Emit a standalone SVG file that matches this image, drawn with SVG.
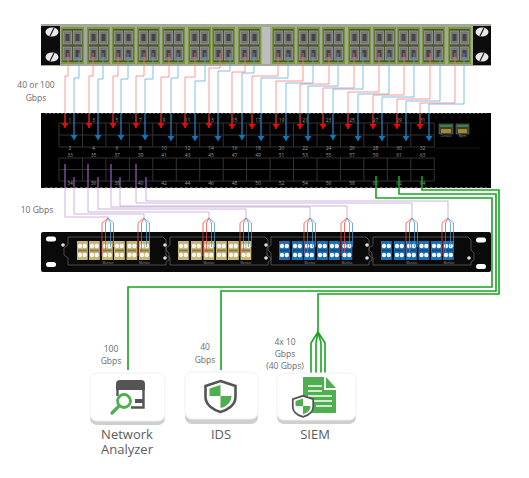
<svg xmlns="http://www.w3.org/2000/svg" xmlns:xlink="http://www.w3.org/1999/xlink" width="529" height="478" viewBox="0 0 529 478">
<style>
text{font-family:"Open Sans","Liberation Sans",sans-serif}
.lb{font-size:8.5px;fill:#6a6a6a;text-anchor:middle}
.nm{font-size:13px;fill:#5c5c5c;text-anchor:middle}
.pn{font-size:5px;fill:#999;text-anchor:middle}
.tiny{font-size:3px;fill:#999;text-anchor:middle}
.r,.b,.p,.g,.rf,.bf{fill:none}
.r{stroke:#ff7474;stroke-width:.75}
.b{stroke:#55a8de;stroke-width:.75}
.p{stroke:#bb98d6;stroke-width:.75}
.g{stroke:#16a51f;stroke-width:1.600}
.rf{stroke:#f04444;stroke-width:.75}
.bf{stroke:#3f96d2;stroke-width:.75}
.br{fill:none;stroke:#5a5a5a;stroke-width:.8}
.card{fill:#fff;stroke:#f0f0f0}
.sh{fill:#cfcfcf}
.dk{fill:#555}
.gr{fill:#4fae4f}
</style>
<defs>
<marker id="ar" markerUnits="userSpaceOnUse" markerWidth="8" markerHeight="7" refX="3.500" refY="5" orient="0" overflow="visible"><path d="M0 0H7L3.500 5Z" fill="#f00"/></marker>
<marker id="ab" markerUnits="userSpaceOnUse" markerWidth="8" markerHeight="7" refX="3.500" refY="5" orient="0" overflow="visible"><path d="M0 0H7L3.500 5Z" fill="#0d78c0"/></marker>
<g id="sm">
<rect width="23" height="37" fill="#7a9a3a"/>
<rect x="1.500" y="2" width="20" height="33" fill="#4a5530"/>
<g fill="#777" stroke="#a8a8a8" stroke-width=".6">
<rect x="2.500" y="4" width="8" height="13"/><rect x="12.500" y="4" width="8" height="13"/>
<rect x="2.500" y="20" width="8" height="13"/><rect x="12.500" y="20" width="8" height="13"/>
</g>
<g fill="#454545">
<rect x="4.500" y="7" width="4" height="7"/><rect x="14.500" y="7" width="4" height="7"/>
<rect x="4.500" y="23" width="4" height="7"/><rect x="14.500" y="23" width="4" height="7"/>
</g>
</g>
<g id="screw"><ellipse rx="6.500" ry="4.500" fill="#e8e8e8"/><path d="M-2 4L2 -4" stroke="#222" stroke-width="1.300"/></g>
<g id="cy"><rect width="10.800" height="19" fill="#c7b574"/><rect x="1" y="8.500" width="8.800" height="2" fill="#8a7a45"/><g fill="#f6f6f0"><circle cx="3" cy="5" r="2.200"/><circle cx="7.800" cy="5" r="2.200"/><circle cx="3" cy="14" r="2.200"/><circle cx="7.800" cy="14" r="2.200"/></g></g>
<g id="cb"><rect width="10.800" height="19" fill="#1a6fb5"/><rect x="1" y="8.500" width="8.800" height="2" fill="#0c4a80"/><g fill="#f2f6fa"><circle cx="3" cy="5" r="2.200"/><circle cx="7.800" cy="5" r="2.200"/><circle cx="3" cy="14" r="2.200"/><circle cx="7.800" cy="14" r="2.200"/></g></g>
<path id="bk" class="br" d="M0 0H95L98 3V13L101 16V23L98 25V28H0V21L-4 18V11L0 8Z"/>
<g id="shield"><path d="M0 -15L15 -10V1C15 9 7 14 0 16C-7 14 -15 9 -15 1V-10Z" fill="#fff" stroke="#555" stroke-width="2.600"/><path d="M0 -11L-11 -7.500V0H0ZM0 0V12C5 11 11 7 11 0Z" class="gr"/></g>
<circle id="sc" r="1.800" fill="#ddd"/>
</defs>

<g id="patch-panel-top">
<rect x="41" y="24" width="450" height="42" fill="#a4a89a"/>
<rect x="41" y="26" width="19" height="39" fill="#0c0c0c"/>
<rect x="473" y="26" width="18" height="39" fill="#0c0c0c"/>
<rect x="262" y="27" width="8" height="37" fill="#bdbdbd"/>
<use href="#screw" x="52" y="32"/><use href="#screw" x="52" y="57"/>
<use href="#screw" x="482" y="32"/><use href="#screw" x="482" y="57"/>
<use href="#sm" x="61" y="27"/><use href="#sm" x="87" y="27"/><use href="#sm" x="112" y="27"/><use href="#sm" x="137" y="27"/>
<use href="#sm" x="162" y="27"/><use href="#sm" x="188" y="27"/><use href="#sm" x="212" y="27"/><use href="#sm" x="238" y="27"/>
<use href="#sm" x="272" y="27"/><use href="#sm" x="297" y="27"/><use href="#sm" x="322" y="27"/><use href="#sm" x="348" y="27"/>
<use href="#sm" x="373" y="27"/><use href="#sm" x="397" y="27"/><use href="#sm" x="422" y="27"/><use href="#sm" x="448" y="27"/>
</g>

<g id="switch">
<rect x="41" y="113" width="450" height="75" fill="#000"/>
<path d="M45 113.500H486" stroke="#555" stroke-width="1" stroke-dasharray="2 2"/>
<path d="M100 115V119M108 115V119M116 115V119M124 115V119M132 115V119M140 115V119M148 115V119M156 115V119M164 115V119M172 115V119M180 115V119M188 115V119M196 115V119M204 115V119M212 115V119M220 115V119M228 115V119M236 115V119M244 115V119M252 115V119M260 115V119M268 115V119M276 115V119M284 115V119M292 115V119M300 115V119M308 115V119M316 115V119M324 115V119M332 115V119M340 115V119M348 115V119M356 115V119M364 115V119M372 115V119M380 115V119M388 115V119M396 115V119M404 115V119M412 115V119M420 115V119M428 115V119M436 115V119M444 115V119M452 115V119M460 115V119M468 115V119" stroke="#1c1c1c" stroke-width="1"/>
<path d="M45 188H487" stroke="#ccc" stroke-width="1.200" stroke-dasharray="2.500 2.500"/>
<path d="M59 123H434M59 135H434M59 147H434M59 158H434M59 169.500H434M59 181H434M59 123V147M82.500 123V147M105.900 123V147M129.400 123V147M152.800 123V147M176.300 123V147M199.700 123V147M223.200 123V147M246.600 123V147M270.100 123V147M293.500 123V147M317 123V147M340.400 123V147M363.900 123V147M387.300 123V147M410.800 123V147M434.200 123V147M59 158V181M82.500 158V181M105.900 158V181M129.400 158V181M152.800 158V181M176.300 158V181M199.700 158V181M223.200 158V181M246.600 158V181M270.100 158V181M293.500 158V181M317 158V181M340.400 158V181M363.900 158V181M387.300 158V181M410.800 158V181M434.200 158V181" fill="none" stroke="#333" stroke-width="1"/>
<path d="M434 148H480" stroke="#222" stroke-width=".7"/>
<g id="console-port"><rect x="439" y="124" width="14" height="10" fill="#3c3c36" stroke="#777" stroke-width=".5"/><path d="M440 126H452" stroke="#2ea84a" stroke-width="1.400"/><rect x="441" y="129" width="10" height="4" fill="#a08a2c"/><text class="tiny" x="446" y="137">Console</text></g>
<g id="mgmt-port"><rect x="456" y="124" width="13" height="10" fill="#3c3c36" stroke="#777" stroke-width=".5"/><path d="M457 126H468" stroke="#2ea84a" stroke-width="1.400"/><rect x="458" y="129" width="9" height="4" fill="#a08a2c"/><text class="tiny" x="462.500" y="137">Mgmt</text></g>
<text class="pn" x="70" y="122">1</text><text class="pn" x="93.500" y="122">3</text><text class="pn" x="117" y="122">5</text><text class="pn" x="140.500" y="122">7</text><text class="pn" x="164" y="122">9</text><text class="pn" x="187.500" y="122">11</text><text class="pn" x="211" y="122">13</text><text class="pn" x="234.500" y="122">15</text><text class="pn" x="258" y="122">17</text><text class="pn" x="281.500" y="122">19</text><text class="pn" x="305" y="122">21</text><text class="pn" x="328.500" y="122">23</text><text class="pn" x="352" y="122">25</text><text class="pn" x="375.500" y="122">27</text><text class="pn" x="399" y="122">29</text><text class="pn" x="422.500" y="122">31</text>
<text class="pn" x="70" y="150">2</text><text class="pn" x="93.500" y="150">4</text><text class="pn" x="117" y="150">6</text><text class="pn" x="140.500" y="150">8</text><text class="pn" x="164" y="150">10</text><text class="pn" x="187.500" y="150">12</text><text class="pn" x="211" y="150">14</text><text class="pn" x="234.500" y="150">16</text><text class="pn" x="258" y="150">18</text><text class="pn" x="281.500" y="150">20</text><text class="pn" x="305" y="150">22</text><text class="pn" x="328.500" y="150">24</text><text class="pn" x="352" y="150">26</text><text class="pn" x="375.500" y="150">28</text><text class="pn" x="399" y="150">30</text><text class="pn" x="422.500" y="150">32</text>
<text class="pn" x="70" y="157">33</text><text class="pn" x="93.500" y="157">35</text><text class="pn" x="117" y="157">37</text><text class="pn" x="140.500" y="157">39</text><text class="pn" x="164" y="157">41</text><text class="pn" x="187.500" y="157">43</text><text class="pn" x="211" y="157">45</text><text class="pn" x="234.500" y="157">47</text><text class="pn" x="258" y="157">49</text><text class="pn" x="281.500" y="157">51</text><text class="pn" x="305" y="157">53</text><text class="pn" x="328.500" y="157">55</text><text class="pn" x="352" y="157">57</text><text class="pn" x="375.500" y="157">59</text><text class="pn" x="399" y="157">61</text><text class="pn" x="422.500" y="157">63</text>
<text class="pn" x="70" y="185">34</text><text class="pn" x="93.500" y="185">36</text><text class="pn" x="117" y="185">38</text><text class="pn" x="140.500" y="185">40</text><text class="pn" x="164" y="185">42</text><text class="pn" x="187.500" y="185">44</text><text class="pn" x="211" y="185">46</text><text class="pn" x="234.500" y="185">48</text><text class="pn" x="258" y="185">50</text><text class="pn" x="281.500" y="185">52</text><text class="pn" x="305" y="185">54</text><text class="pn" x="328.500" y="185">56</text><text class="pn" x="352" y="185">58</text><text class="pn" x="375.500" y="185">60</text><text class="pn" x="399" y="185">62</text><text class="pn" x="422.500" y="185">64</text>
</g>

<g id="fiber-panel">
<rect x="41" y="232" width="450" height="40" rx="2" fill="#0a0a0a"/>
<rect x="46" y="236.500" width="10" height="5" rx="2.500" fill="#fff"/><rect x="46" y="262" width="10" height="5" rx="2.500" fill="#fff"/>
<rect x="476" y="237.500" width="10" height="5" rx="2.500" fill="#fff"/><rect x="476" y="264" width="10" height="5" rx="2.500" fill="#fff"/>
<use href="#bk" x="68" y="237"/><use href="#bk" x="170" y="237"/><use href="#bk" x="271" y="237"/><use href="#bk" x="373" y="237"/>
<use href="#sc" x="63" y="245"/><use href="#sc" x="165" y="245"/><use href="#sc" x="165" y="258"/><use href="#sc" x="266" y="245"/><use href="#sc" x="266" y="258"/><use href="#sc" x="367" y="245"/><use href="#sc" x="367" y="258"/><use href="#sc" x="469" y="258"/>
<use href="#cy" x="77" y="241"/><use href="#cy" x="89" y="241"/><use href="#cy" x="102" y="241"/><use href="#cy" x="114" y="241"/><use href="#cy" x="126.500" y="241"/><use href="#cy" x="139" y="241"/>
<use href="#cy" x="178" y="241"/><use href="#cy" x="191" y="241"/><use href="#cy" x="203.500" y="241"/><use href="#cy" x="216" y="241"/><use href="#cy" x="228" y="241"/><use href="#cy" x="240.500" y="241"/>
<use href="#cb" x="279" y="241"/><use href="#cb" x="292" y="241"/><use href="#cb" x="304" y="241"/><use href="#cb" x="317" y="241"/><use href="#cb" x="329" y="241"/><use href="#cb" x="341.500" y="241"/>
<use href="#cb" x="381" y="241"/><use href="#cb" x="394" y="241"/><use href="#cb" x="406" y="241"/><use href="#cb" x="418.500" y="241"/><use href="#cb" x="431" y="241"/><use href="#cb" x="443" y="241"/>
<text class="tiny" x="108" y="264">Monitor</text><text class="tiny" x="144.500" y="264">Monitor</text><text class="tiny" x="209" y="264">Monitor</text><text class="tiny" x="246" y="264">Monitor</text><text class="tiny" x="310" y="264">Monitor</text><text class="tiny" x="347" y="264">Monitor</text><text class="tiny" x="412" y="264">Monitor</text><text class="tiny" x="449" y="264">Monitor</text>
</g>

<g id="connectors">
<path class="r" marker-end="url(#ar)" d="M68 53V76H65V128"/><path class="b" marker-end="url(#ab)" d="M79 53V78H74V140"/>
<path class="r" marker-end="url(#ar)" d="M93 53V76H89V128"/><path class="b" marker-end="url(#ab)" d="M103 53V79H98V140"/>
<path class="r" marker-end="url(#ar)" d="M118 53V76H113V128"/><path class="b" marker-end="url(#ab)" d="M128 53V79H121V140"/>
<path class="r" marker-end="url(#ar)" d="M144 53V76H136V128"/><path class="b" marker-end="url(#ab)" d="M153 53V79H145V140"/>
<path class="r" marker-end="url(#ar)" d="M169 53V77H161V128"/><path class="b" marker-end="url(#ab)" d="M178 53V78H171V141"/>
<path class="r" marker-end="url(#ar)" d="M195 53V77H185V128"/><path class="b" marker-end="url(#ab)" d="M205 53V81H195V141"/>
<path class="r" marker-end="url(#ar)" d="M220 53V68H209V128"/><path class="b" marker-end="url(#ab)" d="M230 53V71H218V141"/>
<path class="r" marker-end="url(#ar)" d="M245 53V72H232V129"/><path class="b" marker-end="url(#ab)" d="M254 53V73H242V140"/>
<path class="r" marker-end="url(#ar)" d="M278 53V76H252V129"/><path class="b" marker-end="url(#ab)" d="M288 53V78H261V141"/>
<path class="r" marker-end="url(#ar)" d="M303 53V81H276V129"/><path class="b" marker-end="url(#ab)" d="M313 53V83H286V141"/>
<path class="r" marker-end="url(#ar)" d="M329 53V84H300V129"/><path class="b" marker-end="url(#ab)" d="M338 53V86H308V141"/>
<path class="r" marker-end="url(#ar)" d="M354 53V88H323V129"/><path class="b" marker-end="url(#ab)" d="M363 53V89H333V140"/>
<path class="r" marker-end="url(#ar)" d="M379 53V92H348V129"/><path class="b" marker-end="url(#ab)" d="M389 53V94H358V141"/>
<path class="r" marker-end="url(#ar)" d="M404 53V95H373V129"/><path class="b" marker-end="url(#ab)" d="M414 53V97H382V141"/>
<path class="r" marker-end="url(#ar)" d="M430 53V99H397V129"/><path class="b" marker-end="url(#ab)" d="M440 53V101H406V141"/>
<path class="r" marker-end="url(#ar)" d="M455 53V103H420V129"/><path class="b" marker-end="url(#ab)" d="M464 53V104H429V141"/>
<path d="M65 114V124M89 114V124M113 114V124M136 114V124M161 114V124M185 114V124M209 114V124M232 114V124M252 114V124M276 114V124M300 114V124M323 114V124M348 114V124M373 114V124M397 114V124M420 114V124" fill="none" stroke="#c81010" stroke-width=".9"/>
<path d="M74 114V136M98 114V136M121 114V136M145 114V136M171 114V136M195 114V136M218 114V136M242 114V136M261 114V136M286 114V136M308 114V136M333 114V136M358 114V136M382 114V136M406 114V136M429 114V136" fill="none" stroke="#0d6cae" stroke-width=".9"/>

<path class="p" d="M65 164V217H108V218"/><path class="p" d="M74 177V214H144V218"/>
<path class="p" d="M88 164V212H209V218"/><path class="p" d="M98 177V209H246V218"/>
<path class="p" d="M111 164V207H310V218"/><path class="p" d="M120 177V206H347V218"/>
<path class="p" d="M136 164V203H412V218"/><path class="p" d="M146 177V201H448V218"/>
<path d="M65 164V187M88 164V187M111 164V187M136 164V187M74 177V187M98 177V187M120 177V187M146 177V187" fill="none" stroke="#6d3c93" stroke-width=".9"/>

<path class="rf" d="M108 218L102 223V256M108 218L105.500 223V252"/><path class="bf" d="M108 218L110.500 223V247M108 218L113.500 223V247"/>
<path class="rf" d="M144 218L138 223V256M144 218L141.500 223V252"/><path class="bf" d="M144 218L146.500 223V247M144 218L149.500 223V247"/>
<path class="rf" d="M209 218L203 223V256M209 218L206.500 223V252"/><path class="bf" d="M209 218L211.500 223V247M209 218L214.500 223V247"/>
<path class="rf" d="M246 218L240 223V256M246 218L243.500 223V252"/><path class="bf" d="M246 218L248.500 223V247M246 218L251.500 223V247"/>
<path class="rf" d="M310 218L304 223V256M310 218L307.500 223V252"/><path class="bf" d="M310 218L312.500 223V247M310 218L315.500 223V247"/>
<path class="rf" d="M347 218L341 223V256M347 218L344.500 223V252"/><path class="bf" d="M347 218L349.500 223V247M347 218L352.500 223V247"/>
<path class="rf" d="M412 218L406 223V256M412 218L409.500 223V252"/><path class="bf" d="M412 218L414.500 223V247M412 218L417.500 223V247"/>
<path class="rf" d="M448 218L442 223V256M448 218L445.500 223V252"/><path class="bf" d="M448 218L450.500 223V247M448 218L453.500 223V247"/>

<path class="g" d="M376 176V198H492V287H128V370"/>
<path class="g" d="M399 176V194H496V291H221V370"/>
<path class="g" d="M422 176V190H499V294H318V332"/>
<path class="g" d="M318 332L311 343V373M318 332L316 343V373M318 332L321 343V373M318 332L325 343V373"/>
</g>

<g id="network-analyzer">
<rect class="sh" x="90" y="378" width="75" height="47" rx="7"/><rect class="card" x="90" y="373" width="75" height="48" rx="7"/>
<path class="dk" d="M116 390V384Q116 380 120 380H141Q145 380 145 384V390Z"/>
<path d="M117.500 390V396M143.500 390V407.500H131" fill="none" stroke="#555" stroke-width="2.400"/>
<rect class="dk" x="135" y="399" width="8" height="4"/>
<circle cx="124" cy="401" r="6.500" fill="#fff" stroke="#4fae4f" stroke-width="2.800"/>
<path d="M119 406L112 413" stroke="#4fae4f" stroke-width="3.200" stroke-linecap="round"/>
<text class="nm" x="127" y="439">Network<tspan x="127" dy="14.500">Analyzer</tspan></text>
</g>

<g id="ids">
<rect class="sh" x="185" y="377" width="73" height="47" rx="7"/><rect class="card" x="185" y="372" width="73" height="47" rx="7"/>
<use href="#shield" x="220.500" y="396"/>
<text class="nm" x="221" y="439">IDS</text>
</g>

<g id="siem">
<rect class="sh" x="277" y="378" width="79" height="46" rx="7"/><rect class="card" x="277" y="373" width="79" height="47" rx="7"/>
<path class="gr" d="M303 377H324V390H336V413H303Z"/><path class="gr" d="M326 377L336 388H326Z"/>
<path d="M308 386H322M308 391H322M308 396H332M313 401H332M316 406H332" stroke="#fff" stroke-width="1.500"/>
<use href="#shield" transform="translate(303 406) scale(.68)"/>
<text class="nm" x="315" y="439">SIEM</text>
</g>

<g id="labels">
<text class="lb" x="36" y="88">40 or 100</text><text class="lb" x="36" y="101">Gbps</text>
<text class="lb" x="37" y="213">10 Gbps</text>
<text class="lb" x="111" y="352">100</text><text class="lb" x="111" y="364">Gbps</text>
<text class="lb" x="205" y="350">40</text><text class="lb" x="205" y="363">Gbps</text>
<text class="lb" x="285" y="345">4x 10</text><text class="lb" x="285" y="357">Gbps</text><text class="lb" x="285" y="369">(40 Gbps)</text>
</g>
</svg>
